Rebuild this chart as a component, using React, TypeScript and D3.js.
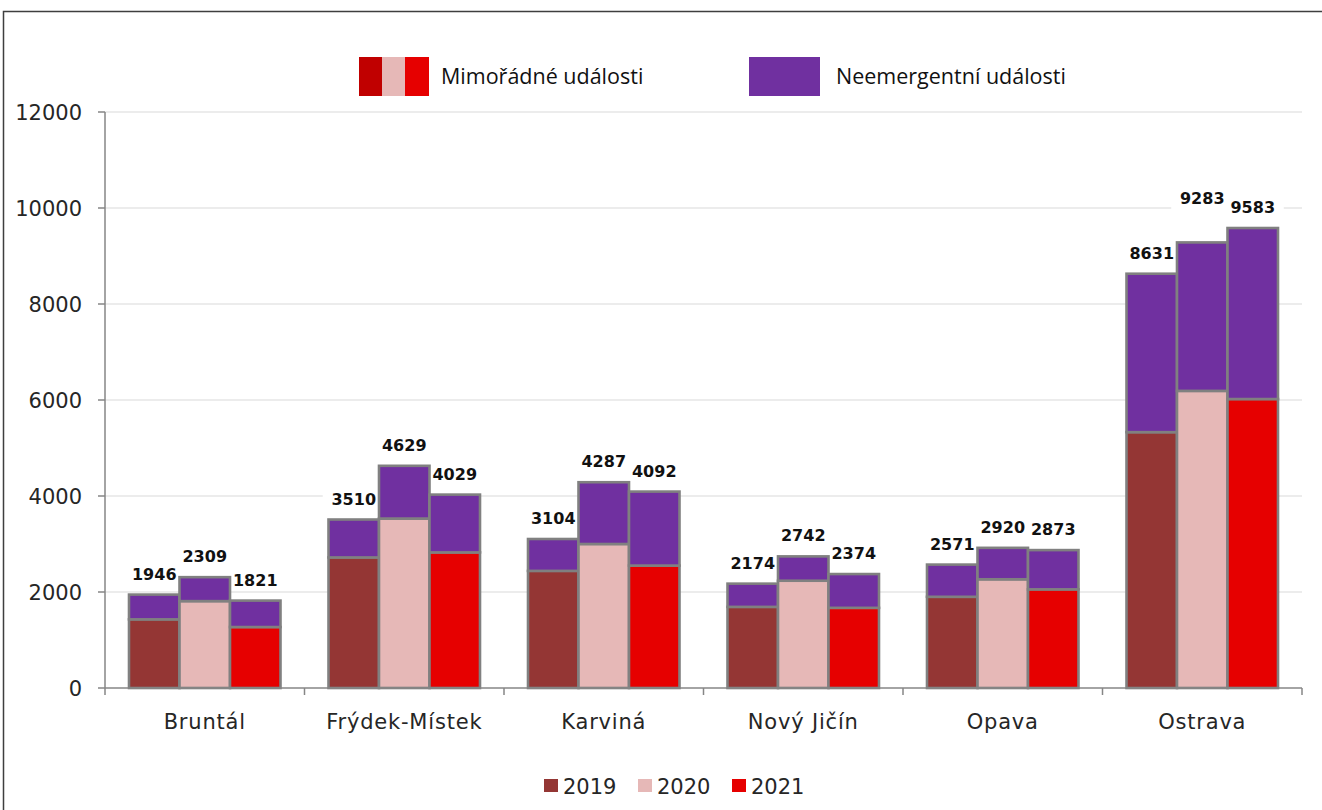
import * as d3 from "d3";

const categories = ["Bruntál", "Frýdek-Místek", "Karviná", "Nový Jičín", "Opava", "Ostrava"];
const years = ["2019", "2020", "2021"];

// totals (label values) per year
const total2019 = [1946, 3510, 3104, 2174, 2571, 8631];
const total2020 = [2309, 4629, 4287, 2742, 2920, 9283];
const total2021 = [1821, 4029, 4092, 2374, 2873, 9583];

// mimořádné události (lower segment)
const emerg2019 = [1430, 2720, 2440, 1690, 1900, 5330];
const emerg2020 = [1810, 3530, 3000, 2235, 2265, 6190];
const emerg2021 = [1270, 2825, 2550, 1670, 2055, 6020];

const yTicks = [0, 2000, 4000, 6000, 8000, 10000, 12000];

const yearColors = ["#943634", "#e6b8b7", "#e60000"];
const purple = "#7030a0";
const barStroke = "#808080";
const axisColor = "#868686";
const font = "'DejaVu Sans', sans-serif";
const legendFont = "'Open Sans', sans-serif";

export default function App() {
    const W = 1322, H = 810;
    const totals = [total2019, total2020, total2021];
    const emerg = [emerg2019, emerg2020, emerg2021];

    const y = d3.scaleLinear().domain([0, 12000]).range([688, 112]);
    const x0 = d3.scaleBand<string>().domain(categories).range([105, 1302]);
    const x1 = d3.scaleBand<string>().domain(years).range([24, x0.bandwidth() - 24]);

    // Excel pushed one label up to avoid a clash
    const nudge = (ci: number, yi: number) => (ci === 5 && yi === 1 ? -23 : 0);

    const bars = categories.flatMap((c, ci) =>
        years.map((yr, yi) => ({
            c, ci, yr, yi,
            x: (x0(c) ?? 0) + (x1(yr) ?? 0),
            e: emerg[yi][ci],
            t: totals[yi][ci],
        }))
    );

    const bounds = [...categories.map(c => x0(c) ?? 0), 1302];

    return (
        <svg width={W} height={H} style={{position: "absolute", left: 0, top: 0, background: "#fff"}}>
            <rect x={3.5} y={11.5} width={1340} height={830} fill="#fff" stroke="#3f3f3f" strokeWidth={1.5}/>

            {/* top legend */}
            <g>
                <rect x={359} y={57} width={24} height={39} fill="#c00000"/>
                <rect x={382} y={57} width={24} height={39} fill="#e6b8b7"/>
                <rect x={405} y={57} width={24} height={39} fill="#e60000"/>
                <text x={441} y={84} fontFamily={legendFont} fontSize={21.5} fill="#111">Mimořádné události</text>
                <rect x={749} y={57} width={71} height={39} fill={purple}/>
                <text x={836} y={84} fontFamily={legendFont} fontSize={21.5} fill="#111">Neemergentní události</text>
            </g>

            {/* grid */}
            {yTicks.filter(t => t > 0).map(t => (
                <line key={t} x1={105} x2={1302} y1={y(t)} y2={y(t)} stroke="#d9d9d9" strokeWidth={1}/>
            ))}

            {/* label backgrounds */}
            {bars.map(b => (
                <rect key={"bg" + b.ci + b.yi} x={b.x + x1.bandwidth() / 2 - 31}
                      y={y(b.t) - 34 + nudge(b.ci, b.yi)} width={62} height={24} fill="#fff"/>
            ))}

            {/* y axis */}
            <line x1={105} x2={105} y1={y(12000)} y2={y(0)} stroke={axisColor} strokeWidth={1.5}/>
            {yTicks.map(t => (
                <g key={t}>
                    <line x1={98} x2={105} y1={y(t)} y2={y(t)} stroke={axisColor} strokeWidth={1.5}/>
                    <text x={82} y={y(t)} dy="0.36em" textAnchor="end" fontFamily={font}
                          fontSize={21} fill="#262626">{t}</text>
                </g>
            ))}

            {/* bars */}
            {bars.map(b => (
                <g key={"b" + b.ci + b.yi}>
                    <rect x={b.x} y={y(b.e)} width={x1.bandwidth()} height={y(0) - y(b.e)}
                          fill={yearColors[b.yi]} stroke={barStroke} strokeWidth={2.6}/>
                    <rect x={b.x} y={y(b.t)} width={x1.bandwidth()} height={y(b.e) - y(b.t)}
                          fill={purple} stroke={barStroke} strokeWidth={2.6}/>
                </g>
            ))}

            {/* x axis */}
            <line x1={105} x2={1302} y1={y(0)} y2={y(0)} stroke={axisColor} strokeWidth={1.5}/>
            {bounds.map((bx, i) => (
                <line key={i} x1={bx} x2={bx} y1={y(0)} y2={y(0) + 7} stroke={axisColor} strokeWidth={1.5}/>
            ))}
            {categories.map(c => (
                <text key={c} x={(x0(c) ?? 0) + x0.bandwidth() / 2} y={729} textAnchor="middle"
                      fontFamily={font} fontSize={21} letterSpacing={0.8} fill="#262626">{c}</text>
            ))}

            {/* value labels */}
            {bars.map(b => (
                <text key={"l" + b.ci + b.yi} x={b.x + x1.bandwidth() / 2} y={y(b.t) - 15 + nudge(b.ci, b.yi)}
                      textAnchor="middle" fontFamily={font} fontWeight="bold" fontSize={16} fill="#111">{b.t}</text>
            ))}

            {/* bottom legend */}
            {years.map((yr, i) => (
                <g key={yr} transform={`translate(${544 + i * 94},0)`}>
                    <rect x={0} y={779} width={14} height={13} fill={yearColors[i]}/>
                    <text x={19} y={794} fontFamily={font} fontSize={21} fill="#262626">{yr}</text>
                </g>
            ))}
        </svg>
    );
}
